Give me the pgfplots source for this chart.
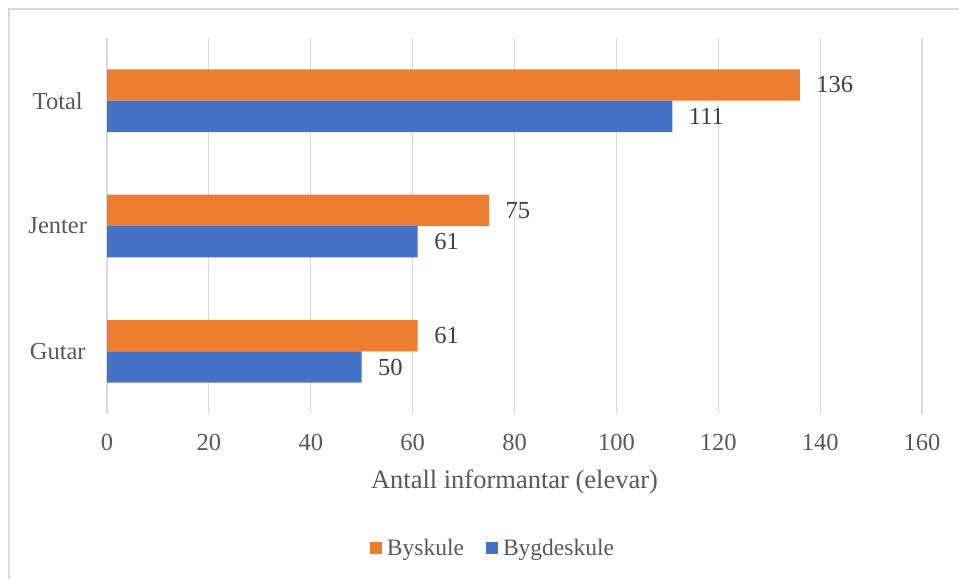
\documentclass[border=0pt]{standalone}
\usepackage{pgfplots}
\pgfplotsset{compat=1.18}
\usepackage{fontspec}
\setmainfont{Liberation Serif}
\definecolor{cOrange}{HTML}{ED7D31}
\definecolor{cBlue}{HTML}{4472C4}
\definecolor{cGrid}{HTML}{D9D9D9}
\definecolor{cText}{HTML}{595959}
\definecolor{cLab}{HTML}{404040}
\begin{document}
\begin{tikzpicture}[x=1pt,y=1pt]
\useasboundingbox (0,0) rectangle (959,579);
\draw[cGrid, line width=1.5pt] (9,0) -- (9,570) -- (959,570);
\begin{axis}[
  at={(107pt,165pt)}, anchor=south west,
  scale only axis, width=815pt, height=376pt,
  xbar, bar width=0.25,
  xmin=0, xmax=160, ymin=-0.5, ymax=2.5,
  xtick={0,20,...,160},
  ytick={0,1,2}, yticklabels={Gutar,Jenter,Total},
  axis line style={draw=none},
  major tick style={draw=none},
  xmajorgrids, grid style={cGrid, line width=1.2pt},
  /pgf/number format/assume math mode=true,
  tick label style={font=\fontsize{24.5}{29}\selectfont, text=cText},
  xticklabel style={anchor=center, yshift=-28pt},
  yticklabel style={anchor=center, xshift=-45pt, inner sep=0pt},
  xlabel={Antall informantar (elevar)},
  xlabel style={font=\fontsize{26.5}{31}\selectfont, text=cText, at={(axis description cs:0.5,0)}, anchor=center, yshift=-68pt},
  nodes near coords,
  nodes near coords style={font=\fontsize{24.5}{29}\selectfont, text=cLab, anchor=west, xshift=13pt},
  legend style={draw=none, fill=none, at={(rel axis cs:0.4736,-0.356)}, anchor=center,
    font=\fontsize{23.5}{28}\selectfont, text=cText, legend columns=2,
    /tikz/every even column/.append style={column sep=20pt}},
  legend cell align=left,
]
\addplot[fill=cOrange, draw=none, bar shift=0.125,
  legend image code/.code={\fill[cOrange] (0pt,-6pt) rectangle (12pt,6pt); \path (15pt,0pt);}]
  coordinates {(61,0) (75,1) (136,2)};
\addplot[fill=cBlue, draw=none, bar shift=-0.125,
  legend image code/.code={\fill[cBlue] (0pt,-6pt) rectangle (12pt,6pt); \path (15pt,0pt);}]
  coordinates {(50,0) (61,1) (111,2)};
\legend{Byskule,Bygdeskule}
\end{axis}
\end{tikzpicture}
\end{document}
